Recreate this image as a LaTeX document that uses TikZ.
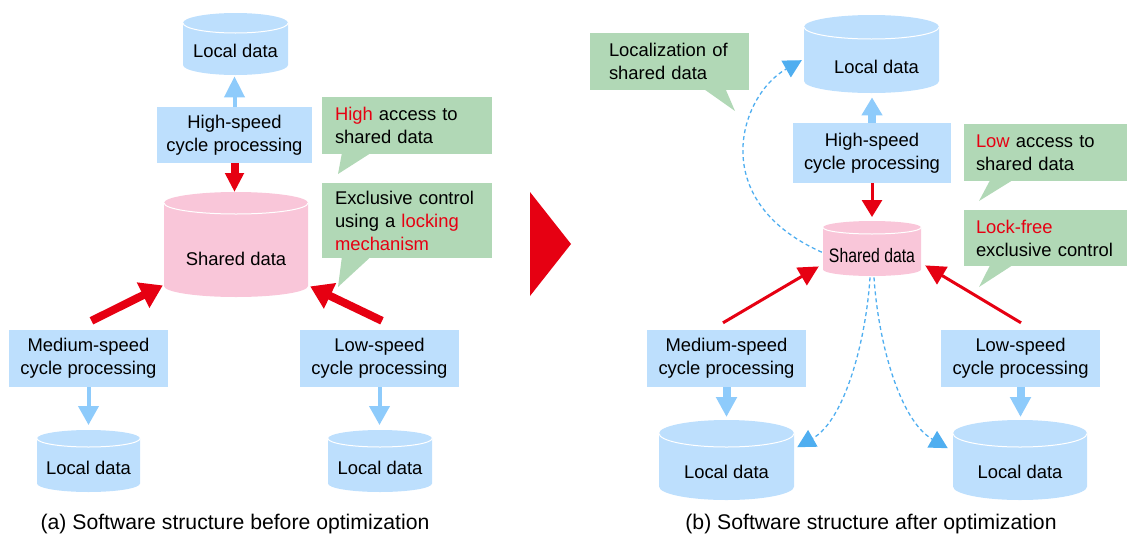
\documentclass[tikz,border=0pt]{standalone}
\usepackage{fontspec}
\setmainfont{Liberation Sans}
\usepackage{graphicx}
\usetikzlibrary{arrows.meta,calc}
\definecolor{boxblue}{HTML}{BDDFFD}
\definecolor{arrblue}{HTML}{8ECBFB}
\definecolor{dashblue}{HTML}{4FAEF0}
\definecolor{cylpink}{HTML}{F9C6D9}
\definecolor{callgreen}{HTML}{B1D8B6}
\definecolor{mred}{HTML}{E60012}
% #1 name, #2 fill, #3 cx, #4 top, #5 bottom, #6 half width, #7 ry, #8 text
\newcommand\dbcyl[8]{%
  \fill[#2] ({#3-#6},{-#4-#7}) -- ({#3-#6},{-#5+#7})
    arc[start angle=180,end angle=360,x radius=#6pt,y radius=#7pt]
    -- ({#3+#6},{-#4-#7})
    arc[start angle=0,end angle=180,x radius=#6pt,y radius=#7pt] -- cycle;
  \draw[white,line width=1pt] ({#3-#6},{-#4-#7})
    arc[start angle=180,end angle=360,x radius=#6pt,y radius=#7pt];
  \node[cyltext, minimum width={2*#6pt}, minimum height={(#5-#4)*1pt}, anchor=north] (#1) at (#3,-#4) {#8};
}
\tikzset{
  txt/.style={font=\fontsize{18.4pt}{23pt}\selectfont},
  captxt/.style={font=\fontsize{21.2pt}{25pt}\selectfont},
  cyltext/.style={txt, inner sep=0pt},
  pbox/.style={txt, fill=boxblue, inner sep=0pt, align=center},
  gbubble/.style={txt, fill=callgreen, inner sep=0pt, align=left},
  bluearr/.style={draw=arrblue, line width=#1},
  redarr/.style={draw=mred, line width=#1},
  dashline/.style={draw=dashblue, line width=1.3pt, dash pattern=on 4pt off 3pt,
    -{Triangle[width=19pt,length=18pt,fill=dashblue]}},
}
\newcommand\rb[2]{\raisebox{#1}[0pt][0pt]{#2}}
\begin{document}
\begin{tikzpicture}[x=1pt,y=1pt]
\useasboundingbox (0,0) rectangle (1127,-536);

% ---------------- left panel ----------------
\dbcyl{LT}{boxblue}{235.5}{13}{75}{52.5}{10}{\rb{-13.6pt}{Local data}}
\dbcyl{LS}{cylpink}{236}{192}{297}{72}{11}{\rb{-20.6pt}{Shared data}}
\dbcyl{LLa}{boxblue}{88.5}{430}{492}{51.5}{8.5}{\rb{-13.6pt}{Local data}}
\dbcyl{LLb}{boxblue}{380}{430}{492}{52}{8.5}{\rb{-13.6pt}{Local data}}

\node[pbox, minimum width=155pt, minimum height=56pt] (LH) at (234.5,-135) {High-speed\\cycle processing};
\node[pbox, minimum width=159pt, minimum height=57pt] (LM) at (88.5,-358.5) {Medium-speed\\cycle processing};
\node[pbox, minimum width=159pt, minimum height=57pt] (LLo) at (379.5,-358.5) {Low-speed\\cycle processing};

\node[gbubble, minimum width=170pt, minimum height=57pt, text width=144pt] (G1) at (407,-125.5)
  {\textcolor{mred}{High} access to\\shared data};
\fill[callgreen] ($(G1.south west)+(20,0.5)$) -- ($(G1.south west)+(48,0.5)$) -- (338,-174) -- cycle;
\node[gbubble, minimum width=170pt, minimum height=75pt, text width=144pt] (G2) at (407,-220.5)
  {Exclusive control\\using a \textcolor{mred}{locking}\\\textcolor{mred}{mechanism}};
\fill[callgreen] ($(G2.south west)+(20,0.5)$) -- ($(G2.south west)+(48,0.5)$) -- (338,-287) -- cycle;

\draw[bluearr=4pt, -{Triangle[width=20pt,length=21pt,fill=arrblue]}] (LH.north) -- ($(LH.north |- LT.south)+(0,-1)$);
\draw[redarr=8pt, -{Triangle[width=18pt,length=19pt,fill=mred]}] (LH.south) -- (LH.south |- LS.north);
\draw[redarr=8pt, -{Triangle[width=27pt,length=22pt,fill=mred]}] ($(LM.north)+(3,9)$) -- ($(LS.south west)+(-1,12)$);
\draw[redarr=8pt, -{Triangle[width=27pt,length=22pt,fill=mred]}] ($(LLo.north)+(2.5,9)$) -- ($(LS.south east)+(2,11)$);
\draw[bluearr=4pt, -{Triangle[width=20pt,length=19pt,fill=arrblue]}] (LM.south) -- ($(LLa.north)+(0,5)$);
\draw[bluearr=4pt, -{Triangle[width=20pt,length=19pt,fill=arrblue]}] (LLo.south) -- ($(LLo.south |- LLb.north)+(0,5)$);

\node[captxt] (capa) at (235,-524) {(a) Software structure before optimization};

% ---------------- middle triangle ----------------
\fill[mred] (530,-192) -- (530,-296) -- (571,-244) -- cycle;

% ---------------- right panel ----------------
\dbcyl{RT}{boxblue}{871.5}{15}{93}{67.5}{12}{\hspace*{10pt}\rb{-19.6pt}{Local data}}
\dbcyl{RS}{cylpink}{872}{221}{276}{49}{6.5}{\rb{-13.5pt}{\fontsize{19.5pt}{23pt}\selectfont\scalebox{0.81}[1]{Shared data}}}
\dbcyl{RLa}{boxblue}{726.5}{420}{500}{67.5}{13.5}{\rb{-18.6pt}{Local data}}
\dbcyl{RLb}{boxblue}{1020}{420}{500}{67}{13.5}{\rb{-18.6pt}{Local data}}

\node[pbox, minimum width=158pt, minimum height=60pt] (RH) at (872,-153) {High-speed\\cycle processing};
\node[pbox, minimum width=159pt, minimum height=57pt] (RM) at (726.5,-358.5) {Medium-speed\\cycle processing};
\node[pbox, minimum width=159pt, minimum height=57pt] (RLo) at (1020.5,-358.5) {Low-speed\\cycle processing};

\node[gbubble, minimum width=159pt, minimum height=57pt, text width=121pt] (G3) at (669.5,-61.5)
  {Localization of\\shared data};
\fill[callgreen] ($(G3.south west)+(115,0.5)$) -- ($(G3.south west)+(136,0.5)$) -- (735,-111) -- cycle;
\node[gbubble, minimum width=163pt, minimum height=57pt, text width=139pt] (G4) at (1045.5,-152.5)
  {\textcolor{mred}{Low} access to\\shared data};
\fill[callgreen] ($(G4.south west)+(26,0.5)$) -- ($(G4.south west)+(48,0.5)$) -- (979,-201) -- cycle;
\node[gbubble, minimum width=163pt, minimum height=56pt, text width=139pt] (G5) at (1045.5,-238)
  {\textcolor{mred}{Lock-free}\\exclusive control};
\fill[callgreen] ($(G5.south west)+(26,0.5)$) -- ($(G5.south west)+(48,0.5)$) -- (979,-287) -- cycle;

\draw[bluearr=8pt, -{Triangle[width=20pt,length=18pt,fill=arrblue]}] (RH.north) -- ($(RH.north |- RT.south)+(0,-4)$);
\draw[redarr=3pt, -{Triangle[width=20pt,length=17pt,fill=mred]}] (RH.south) -- ($(RS.north)+(0,4)$);
\draw[redarr=3pt, -{Triangle[width=20pt,length=20pt,fill=mred]}] ($(RM.north)+(-3.5,7)$) -- ($(RS.south west)+(-4,10)$);
\draw[redarr=3pt, -{Triangle[width=20pt,length=20pt,fill=mred]}] ($(RLo.north)+(0.5,7)$) -- ($(RS.south east)+(4,11)$);
\draw[bluearr=8pt, -{Triangle[width=20pt,length=20pt,fill=arrblue]}] (RM.south) -- ($(RLa.north)+(0,3)$);
\draw[bluearr=8pt, -{Triangle[width=20pt,length=20pt,fill=arrblue]}] (RLo.south) -- ($(RLo.south |- RLb.north)+(0,3)$);

\draw[dashline] ($(RS.west)+(-1,-3.5)$) .. controls (705,-200) and (740,-95) .. ($(RT.west)+(-2,-6)$);
\draw[dashline] ($(RS.south)+(-2,-1)$) .. controls (866,-340) and (845,-420) .. ($(RLa.east)+(3,13)$);
\draw[dashline] ($(RS.south)+(2,-1)$) .. controls (878,-340) and (899,-420) .. ($(RLb.west)+(-5,12)$);

\node[captxt] (capb) at (871,-524) {(b) Software structure after optimization};
\end{tikzpicture}
\end{document}
